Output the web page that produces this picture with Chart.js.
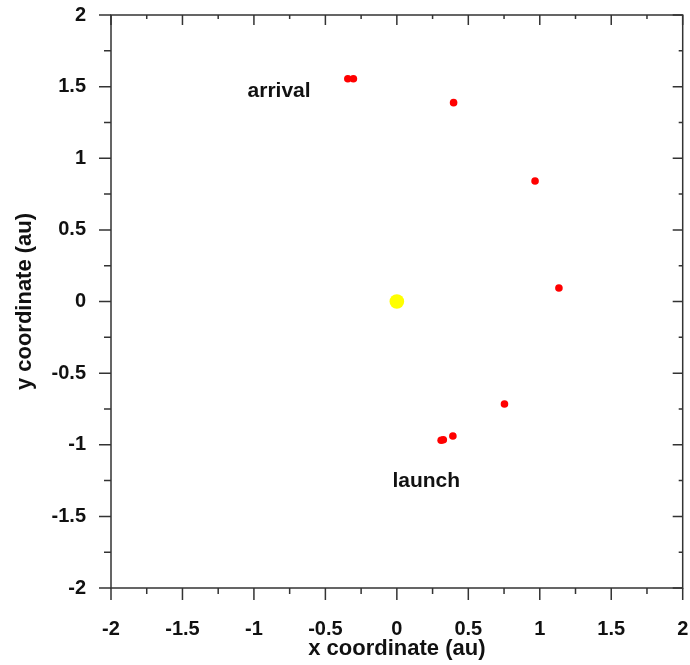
<!DOCTYPE html>
<html>
<head>
<meta charset="utf-8">
<script src="https://cdn.jsdelivr.net/npm/chart.js@4/dist/chart.umd.min.js"></script>
<style>
  html, body { margin: 0; padding: 0; background: #fff; }
  #wrap { width: 690px; height: 665px; }
</style>
</head>
<body>
<div id="wrap"><canvas id="orbitChart"></canvas></div>
<script>
// spacecraft positions (au)
var craftX = [0.31, 0.325, 0.392, 0.753, 1.134, 0.967, 0.397, -0.304, -0.343];
var craftY = [-0.969, -0.965, -0.939, -0.716, 0.094, 0.841, 1.388, 1.555, 1.555];
// sun
var sunX = [0];
var sunY = [0];
// axis ticks
var tickValues = [-2, -1.5, -1, -0.5, 0, 0.5, 1, 1.5, 2];
var tickLabels = ["-2", "-1.5", "-1", "-0.5", "0", "0.5", "1", "1.5", "2"];
// annotations
var noteText = ["arrival", "launch"];
var noteX = [-0.824, 0.206];
var noteY = [1.428, -1.295];

var FONT = "'Liberation Sans', Arial, Helvetica, sans-serif";

function toPoints(xs, ys) {
  return xs.map(function(x, i) { return { x: x, y: ys[i] }; });
}

function labelFor(value) {
  var i = tickValues.indexOf(Math.round(value * 100) / 100);
  return i >= 0 ? tickLabels[i] : '';
}

function noPad(scale) {
  scale.paddingTop = 0;
  scale.paddingBottom = 0;
  scale.paddingLeft = 0;
  scale.paddingRight = 0;
}

// frame, major/minor ticks and text notes
var framePlugin = {
  id: 'frame',
  afterDraw: function(chart) {
    var ctx = chart.ctx;
    var xs = chart.scales.x, ys = chart.scales.y;
    var a = chart.chartArea;
    ctx.save();
    ctx.strokeStyle = '#333';
    ctx.lineWidth = 1.5;
    ctx.strokeRect(a.left, a.top, a.right - a.left, a.bottom - a.top);
    ctx.beginPath();
    for (var v = -2; v <= 2.001; v += 0.25) {
      var major = Math.abs(v * 2 - Math.round(v * 2)) < 1e-6;
      var px = xs.getPixelForValue(v);
      var py = ys.getPixelForValue(v);
      // bottom (outward) and top (inward)
      ctx.moveTo(px, a.bottom); ctx.lineTo(px, a.bottom + (major ? 12 : 6));
      ctx.moveTo(px, a.top); ctx.lineTo(px, a.top + (major ? 10 : 4));
      // left (outward) and right (inward)
      ctx.moveTo(a.left, py); ctx.lineTo(a.left - (major ? 12 : 7), py);
      ctx.moveTo(a.right, py); ctx.lineTo(a.right - (major ? 10 : 4), py);
    }
    ctx.stroke();

    ctx.fillStyle = '#111';
    ctx.font = 'bold 21px ' + FONT;
    ctx.textAlign = 'center';
    ctx.textBaseline = 'alphabetic';
    noteText.forEach(function(t, i) {
      ctx.fillText(t, xs.getPixelForValue(noteX[i]), ys.getPixelForValue(noteY[i]));
    });
    ctx.restore();
  }
};

var ctx = document.getElementById('orbitChart').getContext('2d');
var orbitChart = new Chart(ctx, {
  type: 'scatter',
  data: {
    datasets: [{
      label: 'spacecraft',
      data: toPoints(craftX, craftY),
      backgroundColor: '#ff0000',
      borderWidth: 0,
      pointRadius: 3.8,
      pointHoverRadius: 3.8
    }, {
      label: 'sun',
      data: toPoints(sunX, sunY),
      backgroundColor: '#ffff00',
      borderWidth: 0,
      pointRadius: 7.3,
      pointHoverRadius: 7.3
    }]
  },
  options: {
    responsive: true,
    maintainAspectRatio: false,
    animation: false,
    layout: {
      padding: { top: 15, right: 6, left: 0, bottom: 0 }
    },
    scales: {
      x: {
        type: 'linear',
        min: -2,
        max: 2,
        grid: { display: false, drawTicks: false },
        border: { display: false },
        ticks: {
          stepSize: 0.5,
          padding: 29,
          color: '#111',
          font: { family: FONT, size: 20, weight: 'bold' },
          callback: function(value) { return labelFor(value); }
        },
        title: {
          display: true,
          text: 'x coordinate (au)',
          color: '#111',
          padding: { top: 0, bottom: 3 },
          font: { family: FONT, size: 22, weight: 'bold' }
        },
        afterFit: function(scale) { scale.height = 77; noPad(scale); }
      },
      y: {
        type: 'linear',
        min: -2,
        max: 2,
        grid: { display: false, drawTicks: false },
        border: { display: false },
        ticks: {
          stepSize: 0.5,
          padding: 25,
          color: '#111',
          font: { family: FONT, size: 20, weight: 'bold' },
          callback: function(value) { return labelFor(value); }
        },
        title: {
          display: true,
          text: 'y coordinate (au)',
          color: '#111',
          padding: { top: 12, bottom: 0 },
          font: { family: FONT, size: 22, weight: 'bold' }
        },
        afterFit: function(scale) { scale.width = 111; noPad(scale); }
      }
    },
    plugins: {
      legend: { display: false },
      tooltip: { enabled: false }
    }
  },
  plugins: [framePlugin]
});
</script>
</body>
</html>
